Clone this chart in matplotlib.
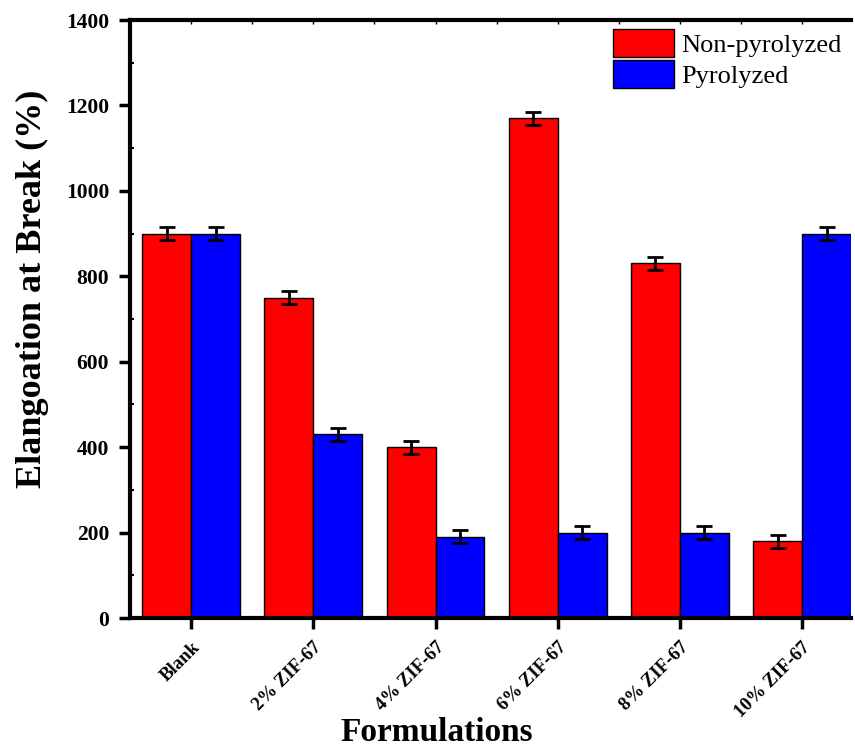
import numpy as np
import matplotlib.pyplot as plt
from matplotlib.ticker import MultipleLocator

formulations = ["Blank", "2% ZIF-67", "4% ZIF-67", "6% ZIF-67", "8% ZIF-67", "10% ZIF-67"]
non_pyrolyzed = [900, 750, 400, 1170, 830, 180]
pyrolyzed = [900, 430, 190, 200, 200, 900]
non_pyrolyzed_err = [15, 15, 15, 15, 15, 15]
pyrolyzed_err = [15, 15, 15, 15, 15, 15]

plt.rcParams['font.family'] = ['Liberation Serif', 'DejaVu Serif']

fig = plt.figure(figsize=(8.55, 7.49), dpi=100)
ax = fig.add_axes([130 / 855, 1 - 618 / 749, 721 / 855, 598 / 749])

x = np.arange(len(formulations))
w = 0.4
err_kw = dict(ecolor="black", elinewidth=2, capsize=5.5, capthick=2)
ax.bar(x - w / 2, non_pyrolyzed, w, yerr=non_pyrolyzed_err, color="#ff0000",
       edgecolor="black", linewidth=1, label="Non-pyrolyzed", error_kw=err_kw)
ax.bar(x + w / 2, pyrolyzed, w, yerr=pyrolyzed_err, color="#0000ff",
       edgecolor="black", linewidth=1, label="Pyrolyzed", error_kw=err_kw)

ax.set_xlim(-0.5, 5.4)
ax.set_ylim(0, 1400)
ax.yaxis.set_major_locator(MultipleLocator(200))
ax.yaxis.set_minor_locator(MultipleLocator(100))
ax.set_xticks(x)
ax.set_xticklabels(formulations, rotation=45, ha="right", rotation_mode="anchor",
                   fontsize=13.5, fontweight="bold")
for lab in ax.get_yticklabels():
    lab.set_fontweight("bold")
ax.tick_params(axis="y", which="major", direction="out", length=8, width=2.5,
               labelsize=15.5, pad=7)
ax.tick_params(axis="y", which="minor", direction="in", length=3, width=1.5)
ax.tick_params(axis="x", which="major", direction="out", length=8, width=2.5, pad=7)

# small inward ticks along the top edge
top = ax.secondary_xaxis("top")
top.set_xticks(np.arange(0, 5.5, 0.5))
top.tick_params(direction="in", length=3, width=1, labeltop=False)
top.spines["top"].set_visible(False)

for s in ["left", "bottom", "top"]:
    ax.spines[s].set_linewidth(3)
ax.spines["right"].set_visible(False)

ax.set_ylabel("Elangoation at Break (%)", fontsize=26, fontweight="bold")
ax.yaxis.set_label_coords(-0.113, 0.55)
ax.set_xlabel("Formulations", fontsize=24, fontweight="bold")
ax.xaxis.set_label_coords(0.426, -0.165)

ax.legend(loc="upper left", bbox_to_anchor=(471 / 721, 1.004), frameon=False, fontsize=19,
          handlelength=2.3, handleheight=1.22, handletextpad=0.3, labelspacing=0.12,
          borderaxespad=0.25, borderpad=0.2)

fig.savefig("out.png", dpi=100)
